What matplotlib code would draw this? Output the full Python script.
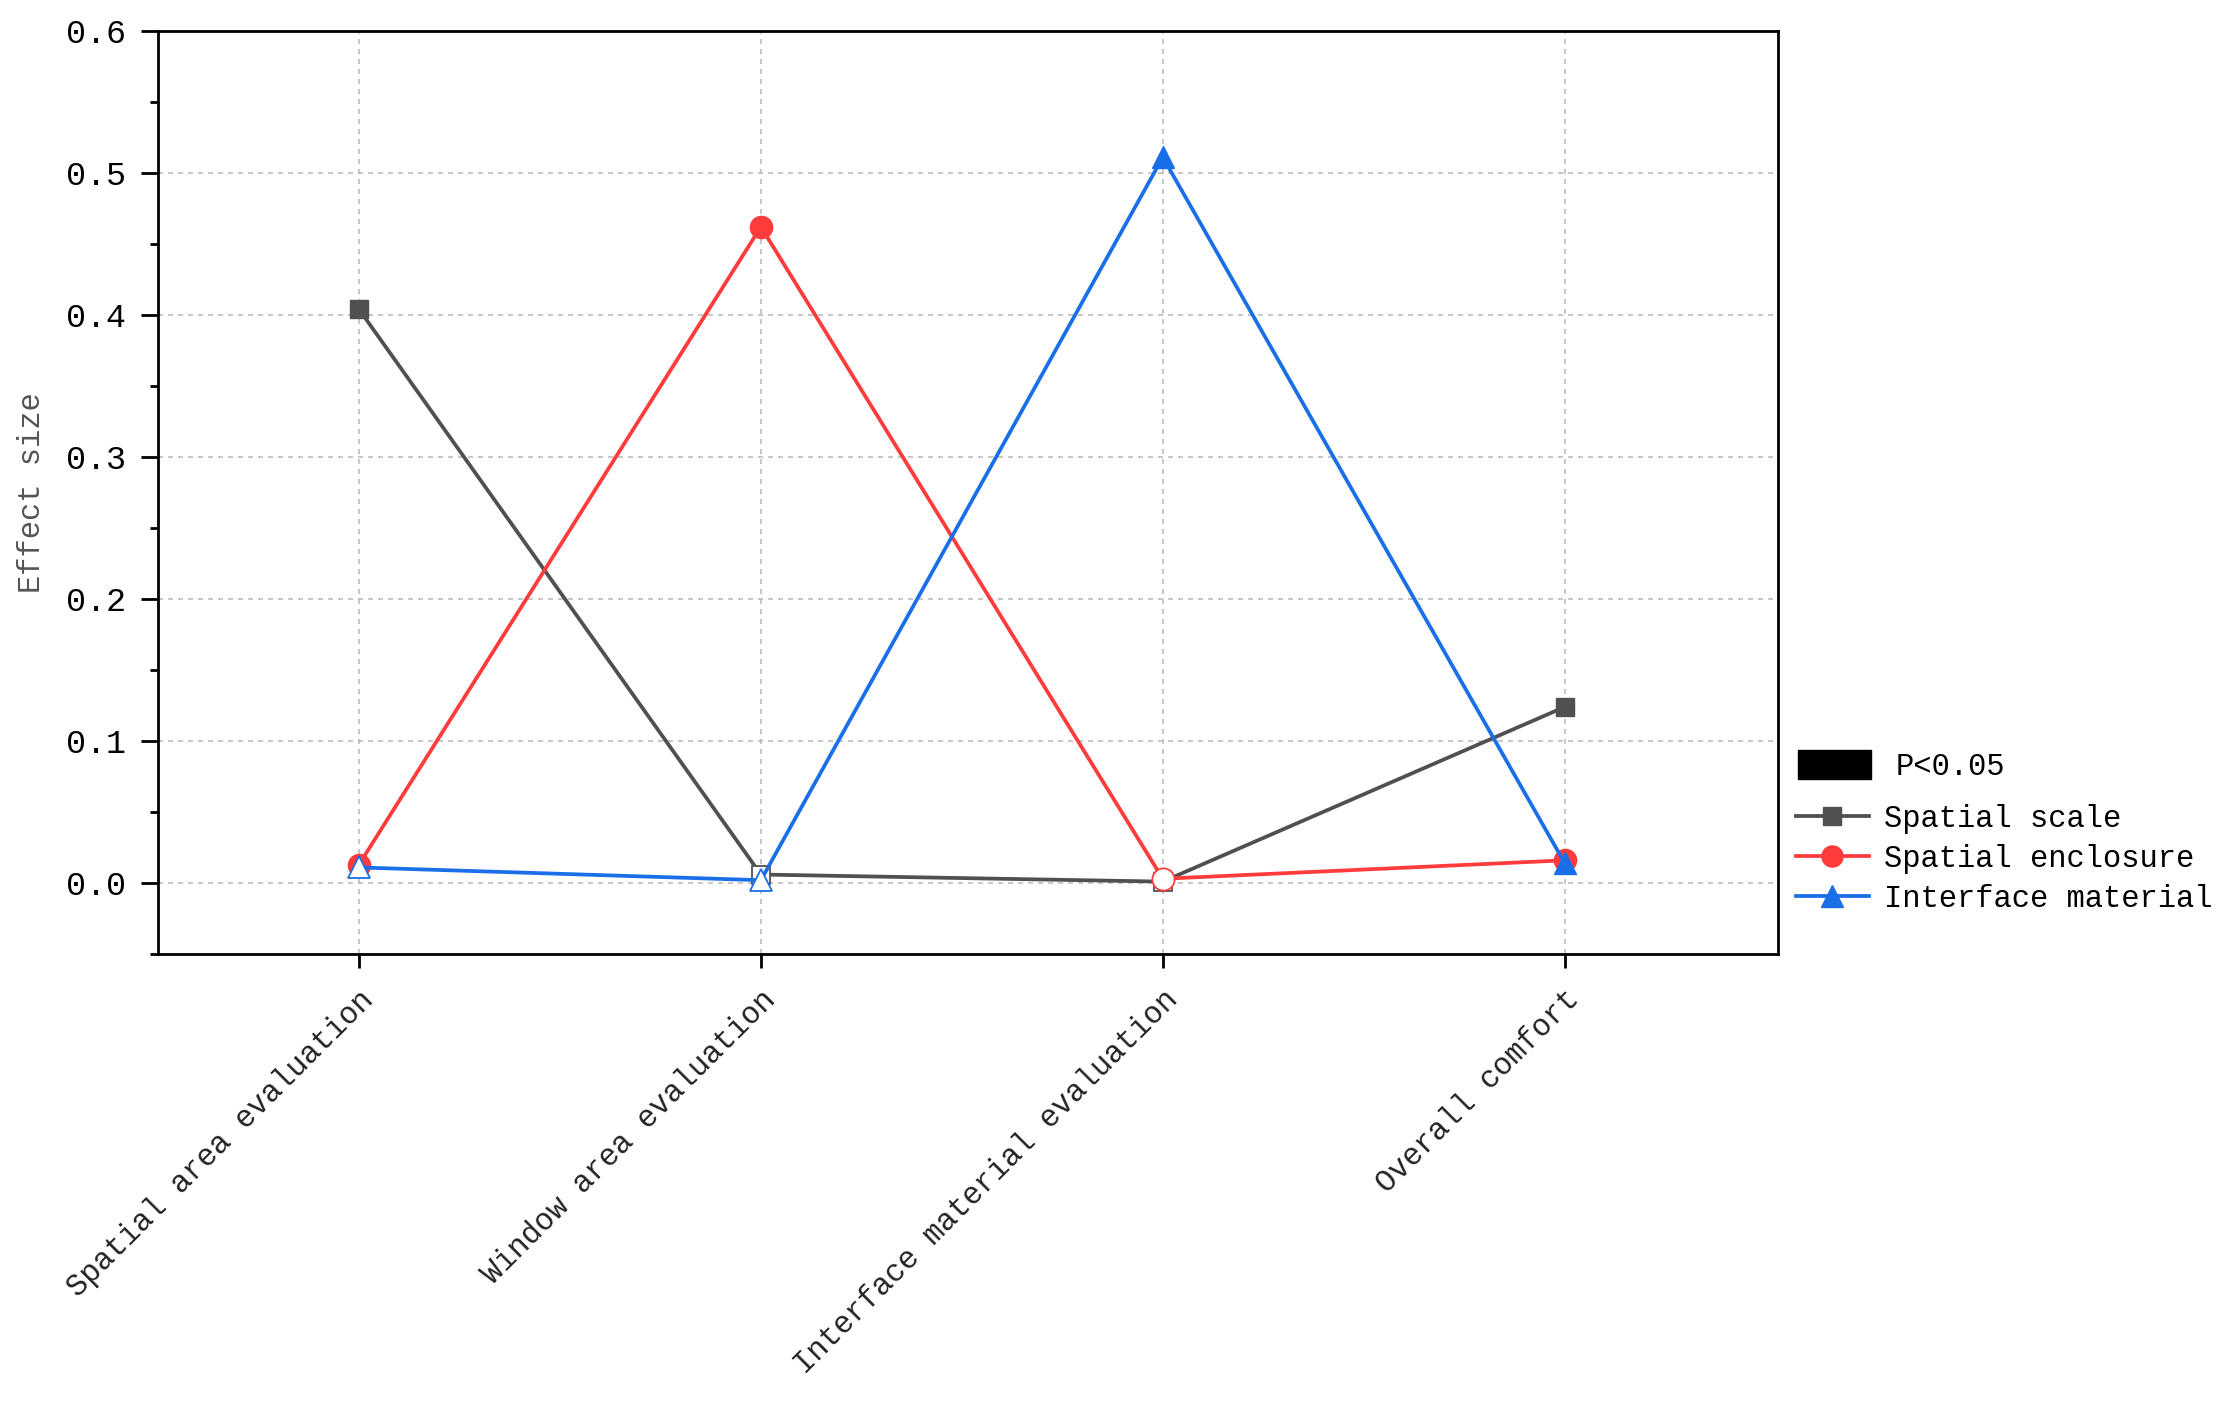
import matplotlib
matplotlib.use('Agg')
from matplotlib import pyplot
from matplotlib.lines import Line2D
from matplotlib.patches import Patch
from matplotlib.ticker import MultipleLocator

matplotlib.rcParams['font.family'] = ['Liberation Mono', 'DejaVu Sans']

categories = ['Spatial area evaluation', 'Window area evaluation',
              'Interface material evaluation', 'Overall comfort']
series_names = ['Spatial scale', 'Spatial enclosure', 'Interface material']

spatial_scale = [0.404, 0.006, 0.001, 0.124]
spatial_enclosure = [0.013, 0.462, 0.003, 0.016]
interface_material = [0.011, 0.002, 0.511, 0.014]

# True where p < 0.05 (filled marker), False -> hollow marker
scale_sig = [True, False, False, True]
enclosure_sig = [True, True, False, True]
material_sig = [False, False, True, True]

colors = ['#505050', '#FF3B3B', '#1A6FE8']
markers = ['s', 'o', '^']
msizes = [13.5, 16, 16.5]

fig = pyplot.figure(figsize=[22.25, 14.02], dpi=100)
ax = fig.add_axes([0.071, 0.3195, 0.728, 0.6585])

x = list(range(len(categories)))
all_vals = [spatial_scale, spatial_enclosure, interface_material]
all_sig = [scale_sig, enclosure_sig, material_sig]

for k, (vals, sig) in enumerate(zip(all_vals, all_sig)):
    ax.plot(x, vals, color=colors[k], lw=2.7, zorder=3 + k)
    xf = [xi for xi, s in zip(x, sig) if s]
    yf = [v for v, s in zip(vals, sig) if s]
    xh = [xi for xi, s in zip(x, sig) if not s]
    yh = [v for v, s in zip(vals, sig) if not s]
    ax.plot(xf, yf, ls='none', marker=markers[k], ms=msizes[k],
            color=colors[k], mec=colors[k], zorder=3 + k)
    ax.plot(xh, yh, ls='none', marker=markers[k], ms=msizes[k],
            mfc='white', mec=colors[k], mew=1.3, zorder=3 + k)

ax.set_xlim(-0.5, 3.53)
ax.set_ylim(-0.05, 0.6)
ax.yaxis.set_major_locator(MultipleLocator(0.1))
ax.yaxis.set_minor_locator(MultipleLocator(0.05))
ax.set_yticklabels([f'{v:.1f}' for v in ax.get_yticks()])
ax.set_xticks(x)
ax.set_xticklabels(categories, rotation=45, ha='right', va='top',
                   rotation_mode='anchor', fontsize=22, color='#222222')
ax.tick_params(axis='y', which='major', length=12, width=2, labelsize=24, pad=11)
ax.tick_params(axis='y', which='minor', length=6, width=2)
ax.tick_params(axis='x', which='major', length=10, width=2, pad=12)
ax.set_ylabel('Effect size', fontsize=22, color='#555555', labelpad=14)

for sp in ax.spines.values():
    sp.set_linewidth(2)

ax.grid(True, which='major', color='#bdbdbd', linestyle=(0, (3, 3)), lw=1.2)
ax.set_axisbelow(True)

sig_handle = [Patch(facecolor='black', edgecolor='black', label='P<0.05')]
leg1 = ax.legend(handles=sig_handle, loc='center left',
                 bbox_to_anchor=(1.0125, 0.204), frameon=False, fontsize=22,
                 handlelength=2.4, handleheight=1.1, handletextpad=0.8,
                 borderpad=0, borderaxespad=0)
ax.add_artist(leg1)

line_handles = []
for k in range(3):
    line_handles.append(Line2D([], [], color=colors[k], lw=2.7, marker=markers[k],
                               ms=msizes[k] * 0.95, label=series_names[k]))
ax.legend(handles=line_handles, loc='center left', bbox_to_anchor=(1.011, 0.103),
          frameon=False, fontsize=22, handlelength=2.4, handletextpad=0.5,
          labelspacing=0.32, borderpad=0, borderaxespad=0)

fig.savefig('out.png', dpi=100)
